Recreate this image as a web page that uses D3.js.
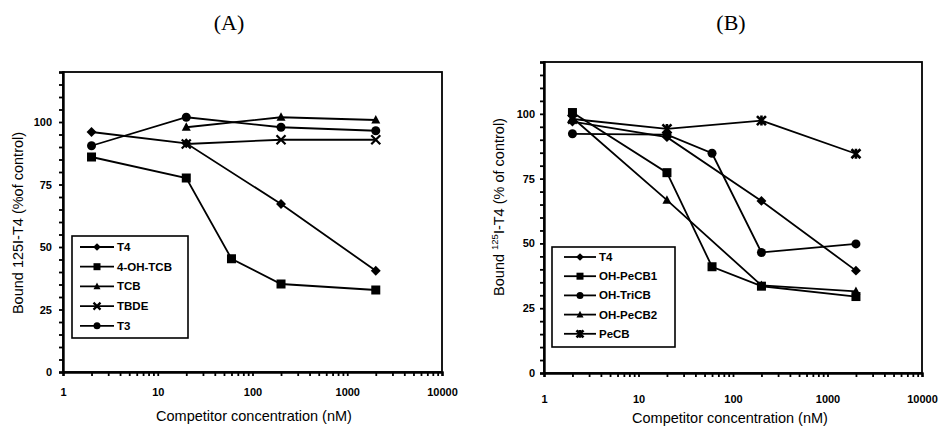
<!DOCTYPE html>
<html>
<head>
<meta charset="utf-8">
<script src="https://cdn.jsdelivr.net/npm/d3@7/dist/d3.min.js"></script>
<style>
  html, body { margin: 0; padding: 0; background: #fff; }
  svg { display: block; }
</style>
</head>
<body>
<svg id="chart" width="944" height="428"></svg>
<script>
// ---------- data ----------
const concFour  = [2, 20, 200, 2000];
const concFive  = [2, 20, 60, 200, 2000];
const concThree = [20, 200, 2000];

// Panel A
const namesA = ["T4", "4-OH-TCB", "TCB", "TBDE", "T3"];
const markersA = ["diamond", "square", "triangle", "x", "circle"];
const a_T4     = [96, 91.5, 67.2, 40.5];
const a_OHTCB  = [86, 77.6, 45.3, 35.2, 32.8];
const a_TCB    = [97.9, 101.9, 100.8];
const a_TBDE   = [91.2, 92.9, 92.9];
const a_T3     = [90.5, 101.9, 97.9, 96.5];

// Panel B
const namesB = ["T4", "OH-PeCB1", "OH-TriCB", "OH-PeCB2", "PeCB"];
const markersB = ["diamond", "square", "circle", "triangle", "star"];
const b_T4      = [97, 91, 66.4, 39.5];
const b_OHPeCB1 = [100.5, 77.3, 41, 33.5, 29.5];
const b_OHTriCB = [92.3, 92, 84.8, 46.5, 49.8];
const b_OHPeCB2 = [98.5, 66.7, 33.8, 31.5];
const b_PeCB    = [98, 94.2, 97.4, 84.6];

const xDecades = [1, 10, 100, 1000, 10000];
const yLabels  = [0, 25, 50, 75, 100];

// ---------- drawing ----------
const svg = d3.select("#chart");

function drawMarker(g, type, cx, cy, s) {
  const h = s / 2;
  if (type === "square") {
    g.append("rect").attr("x", cx - h).attr("y", cy - h).attr("width", s).attr("height", s).attr("fill", "#000");
  } else if (type === "circle") {
    g.append("circle").attr("cx", cx).attr("cy", cy).attr("r", h).attr("fill", "#000");
  } else if (type === "diamond") {
    const d = h * 1.1;
    g.append("path").attr("d", `M${cx},${cy - d}L${cx + d},${cy}L${cx},${cy + d}L${cx - d},${cy}Z`).attr("fill", "#000");
  } else if (type === "triangle") {
    g.append("path").attr("d", `M${cx},${cy - h * 1.1}L${cx + h},${cy + h * 0.8}L${cx - h},${cy + h * 0.8}Z`).attr("fill", "#000");
  } else if (type === "x") {
    g.append("path").attr("d", `M${cx - h},${cy - h}L${cx + h},${cy + h}M${cx - h},${cy + h}L${cx + h},${cy - h}`)
      .attr("stroke", "#000").attr("stroke-width", 2.2).attr("fill", "none");
  } else if (type === "star") {
    g.append("path").attr("d", `M${cx - h},${cy - h}L${cx + h},${cy + h}M${cx - h},${cy + h}L${cx + h},${cy - h}M${cx},${cy - h * 1.1}L${cx},${cy + h * 1.1}`)
      .attr("stroke", "#000").attr("stroke-width", 2.6).attr("fill", "none");
  }
}

function drawPanel(cfg) {
  const g = svg.append("g");
  const x = d3.scaleLog().domain([1, 10000]).range([cfg.left, cfg.right]);
  const y = d3.scaleLinear().domain([0, 120]).range([cfg.bottom, cfg.top]);

  // frame
  g.append("rect").attr("x", cfg.left).attr("y", cfg.top)
    .attr("width", cfg.right - cfg.left).attr("height", cfg.bottom - cfg.top)
    .attr("fill", "none").attr("stroke", "#000").attr("stroke-width", 1.8);

  const font = "Liberation Sans, Arial, sans-serif";

  // y axis
  const yAxis = d3.axisLeft(y).tickValues(d3.range(0, 121, 5))
    .tickSize(4).tickPadding(cfg.yPad)
    .tickFormat(d => yLabels.includes(d) ? d : "");
  const ya = g.append("g").attr("transform", `translate(${cfg.left},0)`).call(yAxis);
  ya.select(".domain").attr("stroke-width", 2.4);
  ya.selectAll(".tick line").attr("stroke-width", 1.8);
  ya.selectAll(".tick text").attr("font-family", font)
    .attr("font-size", 11).attr("font-weight", "bold").attr("fill", "#000");

  // x axis
  const xTicks = [];
  for (let dec = 1; dec < 10000; dec *= 10) for (let k = 1; k < 10; k++) xTicks.push(dec * k);
  xTicks.push(10000);
  const xAxis = d3.axisBottom(x).tickValues(xTicks).tickSize(4).tickPadding(cfg.xPad)
    .tickFormat(d => xDecades.includes(d) ? d : "");
  const xa = g.append("g").attr("transform", `translate(0,${cfg.bottom})`).call(xAxis);
  xa.select(".domain").attr("stroke-width", 2.4);
  xa.selectAll(".tick line").attr("stroke-width", 1.8);
  xa.selectAll(".tick text").attr("font-family", font)
    .attr("font-size", 11).attr("font-weight", "bold").attr("fill", "#000");

  // series
  const line = d3.line().x(d => x(d[0])).y(d => y(d[1]));
  cfg.series.forEach(s => {
    const pts = s.conc.map((c, i) => [c, s.vals[i]]);
    g.append("path").datum(pts).attr("d", line)
      .attr("fill", "none").attr("stroke", "#000").attr("stroke-width", 1.8);
  });
  cfg.series.forEach(s => {
    s.conc.forEach((c, i) => drawMarker(g, s.marker, x(c), y(s.vals[i]), 9));
  });

  // legend
  const L = cfg.legend;
  g.append("rect").attr("x", L.x).attr("y", L.y).attr("width", L.w).attr("height", L.h)
    .attr("fill", "#fff").attr("stroke", "#000").attr("stroke-width", 1.6);
  cfg.series.forEach((s, i) => {
    const ly = L.y + L.first + i * L.step;
    g.append("line").attr("x1", L.x + L.lx1).attr("x2", L.x + L.lx2).attr("y1", ly).attr("y2", ly)
      .attr("stroke", "#000").attr("stroke-width", 1.8);
    drawMarker(g, s.marker, L.x + (L.lx1 + L.lx2) / 2, ly, 7);
    g.append("text").attr("x", L.x + L.lx2 + 3).attr("y", ly + 4)
      .attr("font-family", font).attr("font-size", 11.5)
      .attr("font-weight", "bold").text(s.name);
  });

  // titles
  g.append("text").attr("x", cfg.titleX).attr("y", 30).attr("text-anchor", "middle")
    .attr("font-family", "Liberation Serif, Times New Roman, serif").attr("font-size", 22).text(cfg.title);

  g.append("text").attr("x", cfg.xTitleX).attr("y", cfg.xTitleY).attr("text-anchor", "middle")
    .attr("font-family", font).attr("font-size", 14.5).text("Competitor concentration (nM)");

  const yt = g.append("text").attr("transform", `translate(${cfg.yTitleX},${cfg.yTitleY}) rotate(-90)`)
    .attr("text-anchor", "middle").attr("font-family", font).attr("font-size", 14.5);
  cfg.yTitle(yt);
}

drawPanel({
  left: 63, right: 442, top: 72, bottom: 372, xPad: 12, yPad: 7,
  title: "(A)", titleX: 229,
  xTitleX: 254, xTitleY: 421,
  yTitleX: 23, yTitleY: 223,
  yTitle: t => t.text("Bound 125I-T4 (%of control)"),
  series: [
    { name: namesA[0], marker: markersA[0], conc: concFour,  vals: a_T4 },
    { name: namesA[1], marker: markersA[1], conc: concFive,  vals: a_OHTCB },
    { name: namesA[2], marker: markersA[2], conc: concThree, vals: a_TCB },
    { name: namesA[3], marker: markersA[3], conc: concThree, vals: a_TBDE },
    { name: namesA[4], marker: markersA[4], conc: concFour,  vals: a_T3 }
  ],
  legend: { x: 72, y: 236, w: 116, h: 102, first: 11, step: 19.7, lx1: 8, lx2: 42 }
});

drawPanel({
  left: 544, right: 922, top: 62, bottom: 373, xPad: 18, yPad: 5,
  title: "(B)", titleX: 731,
  xTitleX: 730, xTitleY: 423,
  yTitleX: 504, yTitleY: 207,
  yTitle: t => {
    t.append("tspan").text("Bound ");
    t.append("tspan").attr("font-size", 9.5).attr("dy", -6).text("125");
    t.append("tspan").attr("dy", 6).text("I-T4 (% of control)");
  },
  series: [
    { name: namesB[0], marker: markersB[0], conc: concFour, vals: b_T4 },
    { name: namesB[1], marker: markersB[1], conc: concFive, vals: b_OHPeCB1 },
    { name: namesB[2], marker: markersB[2], conc: concFive, vals: b_OHTriCB },
    { name: namesB[3], marker: markersB[3], conc: concFour, vals: b_OHPeCB2 },
    { name: namesB[4], marker: markersB[4], conc: concFour, vals: b_PeCB }
  ],
  legend: { x: 552, y: 247, w: 123, h: 100, first: 10, step: 19.2, lx1: 12, lx2: 44 }
});
</script>
</body>
</html>
